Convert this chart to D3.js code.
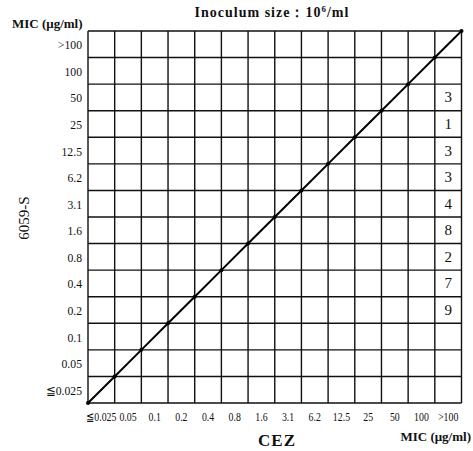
<!DOCTYPE html>
<html>
<head>
<meta charset="utf-8">
<script src="https://cdn.jsdelivr.net/npm/d3@7/dist/d3.min.js"></script>
<style>
  html, body { margin: 0; padding: 0; background: #fff; }
  svg { display: block; }
  text { font-family: "Liberation Serif", "DejaVu Serif", serif; fill: #111; }
</style>
</head>
<body>
<svg id="chart" width="473" height="451"></svg>
<script>
// MIC categories (µg/ml), lowest first
const micLevels = ["≦0.025", "0.05", "0.1", "0.2", "0.4", "0.8", "1.6", "3.1", "6.2", "12.5", "25", "50", "100", ">100"];
const xTickLabels = ["≦0.025", "0.05", "0.1", "0.2", "0.4", "0.8", "1.6", "3.1", "6.2", "12.5", "25", "50", "100", ">100"];
const yTickLabels = ["≦0.025", "0.05", "0.1", "0.2", "0.4", "0.8", "1.6", "3.1", "6.2", "12.5", "25", "50", "100", ">100"];

// Strain counts: CEZ MIC column and 6059-S MIC row
const countCez = [">100", ">100", ">100", ">100", ">100", ">100", ">100", ">100", ">100"];
const countDrug = ["50", "25", "12.5", "6.2", "3.1", "1.6", "0.8", "0.4", "0.2"];
const countN = [3, 1, 3, 3, 4, 8, 2, 7, 9];

const svg = d3.select("#chart");
const gLeft = 88, gRight = 461.5, gTop = 31, gBottom = 403;

const x = d3.scaleBand().domain(micLevels).range([gLeft, gRight]).padding(0);
const y = d3.scaleBand().domain(micLevels).range([gBottom, gTop]).padding(0);
const bw = x.bandwidth(), bh = y.bandwidth();

// band boundaries for the grid
const xEdges = d3.range(micLevels.length + 1).map(i => gLeft + i * bw);
const yEdges = d3.range(micLevels.length + 1).map(i => gBottom - i * bh);

const grid = svg.append("g").attr("stroke", "#111").attr("stroke-width", 1.4);
grid.selectAll("line.v").data(xEdges).join("line")
  .attr("x1", d => d).attr("x2", d => d).attr("y1", gTop).attr("y2", gBottom);
grid.selectAll("line.h").data(yEdges).join("line")
  .attr("x1", gLeft).attr("x2", gRight).attr("y1", d => d).attr("y2", d => d);

// line of equal MIC
const diag = d3.range(micLevels.length + 1).map(i => [xEdges[i], yEdges[i]]);
svg.append("path")
  .attr("d", d3.line()(diag))
  .attr("fill", "none").attr("stroke", "#000").attr("stroke-width", 2);
svg.selectAll("circle.node").data(diag).join("circle")
  .attr("cx", d => d[0]).attr("cy", d => d[1]).attr("r", 2).attr("fill", "#000");

// strain counts
svg.selectAll("text.count").data(countN).join("text")
  .attr("x", (d, i) => x(countCez[i]) + bw / 2)
  .attr("y", (d, i) => y(countDrug[i]) + bh / 2 + 5)
  .attr("text-anchor", "middle")
  .attr("font-size", 15)
  .text(d => d);

// y tick labels
svg.selectAll("text.ytick").data(yTickLabels).join("text")
  .attr("transform", (d, i) => `translate(82,${y(micLevels[i]) + bh / 2 + 5}) scale(0.9,1)`)
  .attr("text-anchor", "end")
  .attr("font-size", 13)
  .text(d => d);

// x tick labels (condensed)
svg.selectAll("text.xtick").data(xTickLabels).join("text")
  .attr("transform", (d, i) => `translate(${x(micLevels[i]) + bw / 2},421) scale(0.82,1)`)
  .attr("text-anchor", "middle")
  .attr("font-size", 12)
  .text(d => d);

// titles
svg.append("text").attr("x", 272).attr("y", 17).attr("text-anchor", "middle")
  .attr("font-size", 14).attr("font-weight", "bold").attr("letter-spacing", 1)
  .html('Inoculum size：10<tspan font-size="9" dy="-5">6</tspan><tspan dy="5">/ml</tspan>');
svg.append("text").attr("x", 12).attr("y", 28)
  .attr("font-size", 13).attr("font-weight", "bold")
  .text("MIC (μg/ml)");
svg.append("text").attr("x", 471).attr("y", 441).attr("text-anchor", "end")
  .attr("font-size", 13).attr("font-weight", "bold")
  .text("MIC (μg/ml)");
svg.append("text").attr("x", 277).attr("y", 446).attr("text-anchor", "middle")
  .attr("font-size", 17).attr("font-weight", "bold").attr("letter-spacing", 1)
  .text("CEZ");
svg.append("text")
  .attr("transform", "translate(29,218) rotate(-90)")
  .attr("text-anchor", "middle")
  .attr("font-size", 15)
  .text("6059-S");
</script>
</body>
</html>
